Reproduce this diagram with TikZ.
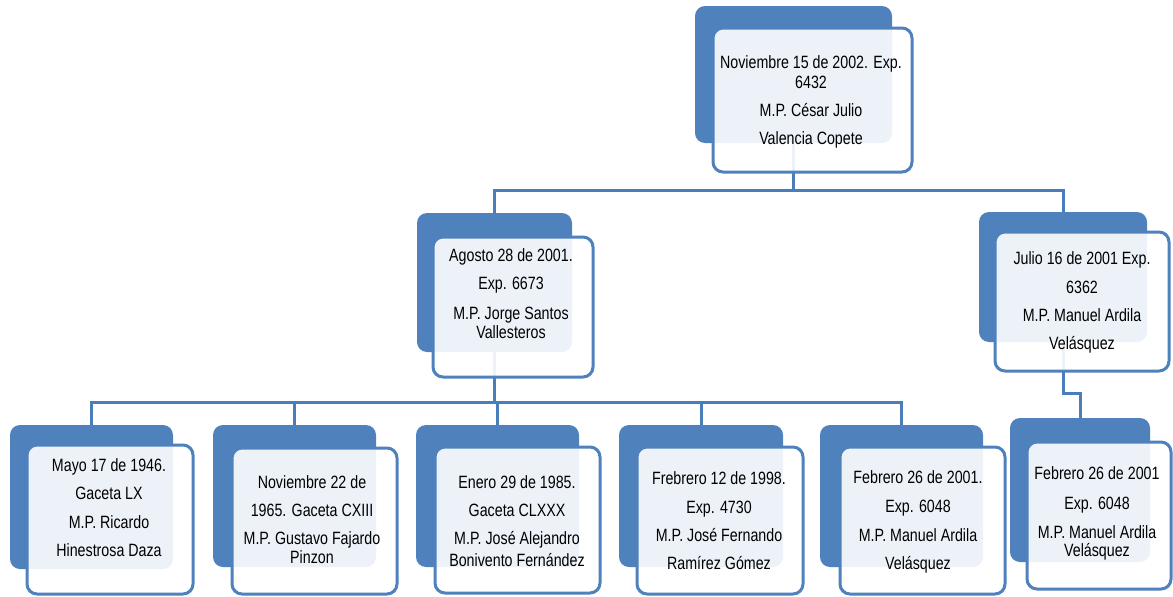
\documentclass[tikz,border=0pt]{standalone}
\usepackage{fontspec}
\setmainfont{Liberation Sans}[FakeStretch=0.8]
\pgfdeclarelayer{bg}
\pgfsetlayers{bg,main}
\definecolor{ablue}{HTML}{4F81BD}
\definecolor{lblue}{HTML}{4A7EBB}
\tikzset{
  backbox/.style={draw=none, fill=ablue, rounded corners=10pt, inner sep=0pt},
  frontbox/.style={draw=ablue, line width=3pt, fill=white, fill opacity=0.9, draw opacity=1, rounded corners=10pt, inner sep=0pt},
  conn/.style={draw=lblue, line width=3pt},
  lbl/.style={anchor=base, inner sep=0pt, font=\fontsize{17.8}{20}\selectfont, text=black, yshift=-6.3pt},
}
\newcommand\twobox[9]{%
  \node[backbox, minimum width={#4-#2}, minimum height={#5-#3}] (#1b) at ({(#2+#4)/2},{(#3+#5)/2}) {};
  \node[frontbox, minimum width={#8-#6}, minimum height={#9-#7}] (#1f) at ({(#6+#8)/2},{(#7+#9)/2}) {};
}
\newcommand\boxlines[3]{\foreach \yy/\tx [count=\i] in {#3} {\node[lbl] (#1t\i) at (#2,\yy) {\tx};}}
\begin{document}
\begin{tikzpicture}[x=1pt,y=-1pt]
\useasboundingbox (0,0) rectangle (1173,597);
% boxes
\twobox{top}{695}{6}{892}{143}{713}{28}{912}{172}
\twobox{ml}{417}{213}{572}{352}{433}{237}{593}{377}
\twobox{mr}{979}{212}{1147}{342}{995}{232}{1169}{371}
\twobox{ba}{10}{425}{173}{569}{27}{445}{193}{594}
\twobox{bb}{213}{425}{376}{567}{232}{448}{397}{594}
\twobox{bc}{416}{425}{579}{567}{435}{447}{600}{593}
\twobox{bd}{619}{425}{783}{567}{637}{447}{803}{594}
\twobox{be}{820}{425}{983}{567}{840}{447}{1005}{594}
\twobox{br}{1010}{418}{1150}{562}{1027}{442}{1171}{589}
% texts
\boxlines{top}{811}{62/Noviembre 15 de 2002. Exp., 82/6432, 110/M.P. César Julio, 138/Valencia Copete}
\boxlines{ml}{511}{255/Agosto 28 de 2001., 283/Exp. 6673, 313/M.P. Jorge Santos, 332/Vallesteros}
\boxlines{mr}{1082}{258/Julio 16 de 2001 Exp., 287/6362, 315/M.P. Manuel Ardila, 343/Velásquez}
\boxlines{ba}{109}{465/Mayo 17 de 1946., 493/Gaceta LX, 522/M.P. Ricardo, 550/Hinestrosa Daza}
\boxlines{bb}{312}{482/Noviembre 22 de, 510/1965. Gaceta CXIII, 538/M.P. Gustavo Fajardo, 557/Pinzon}
\boxlines{bc}{517}{482/Enero 29 de 1985., 510/Gaceta CLXXX, 538/M.P. José Alejandro, 560/Bonivento Fernández}
\boxlines{bd}{719}{478/Frebrero 12 de 1998., 507/Exp. 4730, 535/M.P. José Fernando, 563/Ramírez Gómez}
\boxlines{be}{918}{477/Febrero 26 de 2001., 506/Exp. 6048, 535/M.P. Manuel Ardila, 563/Velásquez}
\boxlines{br}{1097}{473/Febrero 26 de 2001, 503/Exp. 6048, 532/M.P. Manuel Ardila, 550/Velásquez}
% connectors
\coordinate (j1) at (793,190);
\coordinate (j2) at (494.5,402);
\coordinate (j3) at (1063,393);
\begin{pgfonlayer}{bg}
  \fill[white] (0,0) rectangle (1173,597);
  \draw[conn] (j1 |- topb.south) -- (j1);
  \draw[conn] (j1) -| (mlb.north);
  \draw[conn] (j1) -| (mrb.north);
  \draw[conn] (mlb.south) -- (j2);
  \draw[conn] (bab.north) |- (j2) -| (beb.north);
  \draw[conn] (j2 -| bbb.north) -- (bbb.north);
  \draw[conn] (j2 -| bcb.north) -- (bcb.north);
  \draw[conn] (j2 -| bdb.north) -- (bdb.north);
  \draw[conn] (mrb.south) -- (j3) -| (brb.north);
\end{pgfonlayer}
\end{tikzpicture}
\end{document}
